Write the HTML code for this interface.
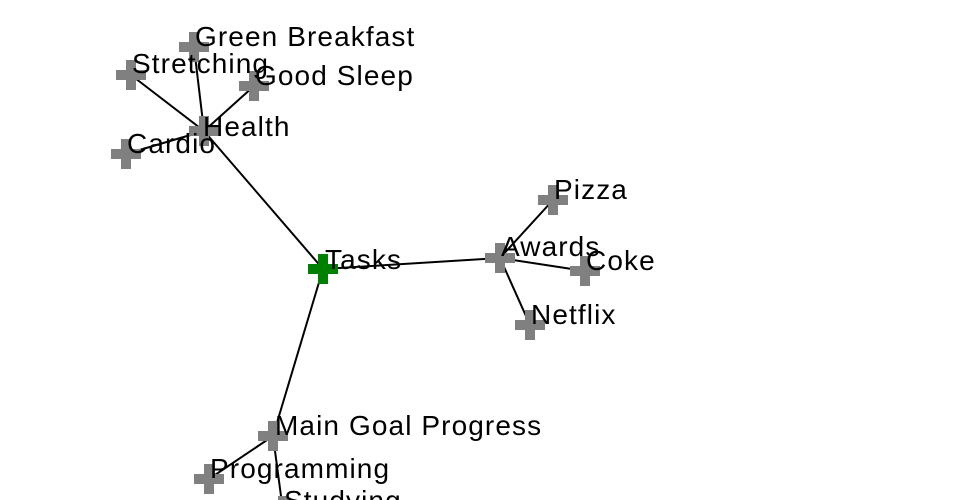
<!DOCTYPE html>
<html><head><style>html,body{margin:0;padding:0;background:#fff;width:960px;height:500px;overflow:hidden}</style></head>
<body>
<svg width="960" height="500" xmlns="http://www.w3.org/2000/svg">
<defs>
<path id="p" d="M-5,-15h10v10h10v10h-10v10h-10v-10h-10v-10h10z"/>
</defs>
<g stroke="#000" stroke-width="2">
<line x1="323" y1="269" x2="204" y2="131"/>
<line x1="204" y1="131" x2="194" y2="47"/>
<line x1="204" y1="131" x2="131" y2="75"/>
<line x1="204" y1="131" x2="254" y2="86"/>
<line x1="204" y1="131" x2="126" y2="154"/>
<line x1="323" y1="269" x2="500" y2="258"/>
<line x1="500" y1="258" x2="553" y2="200"/>
<line x1="500" y1="258" x2="585" y2="271"/>
<line x1="500" y1="258" x2="530" y2="325"/>
<line x1="323" y1="269" x2="273" y2="436"/>
<line x1="273" y1="436" x2="209" y2="479"/>
<line x1="273" y1="436" x2="283" y2="511"/>
</g>
<g fill="#808080">
<use href="#p" x="204" y="131"/><use href="#p" x="194" y="47"/><use href="#p" x="131" y="75"/>
<use href="#p" x="254" y="86"/><use href="#p" x="126" y="154"/><use href="#p" x="500" y="258"/>
<use href="#p" x="553" y="200"/><use href="#p" x="585" y="271"/><use href="#p" x="530" y="325"/>
<use href="#p" x="273" y="436"/><use href="#p" x="209" y="479"/><use href="#p" x="283" y="511"/>
</g>
<use href="#p" x="323" y="269" fill="#008000"/>
<g font-family="Liberation Sans, sans-serif" font-size="28" letter-spacing="1.1" fill="#000">
<text x="325" y="269">Tasks</text>
<text x="203" y="136">Health</text>
<text x="195" y="46">Green Breakfast</text>
<text x="132" y="73">Stretching</text>
<text x="255" y="85">Good Sleep</text>
<text x="127" y="153">Cardio</text>
<text x="501" y="256">Awards</text>
<text x="554" y="199">Pizza</text>
<text x="586" y="270">Coke</text>
<text x="531" y="324">Netflix</text>
<text x="275" y="435">Main Goal Progress</text>
<text x="210" y="478">Programming</text>
<text x="284" y="510">Studying</text>
</g>
</svg>
</body></html>
